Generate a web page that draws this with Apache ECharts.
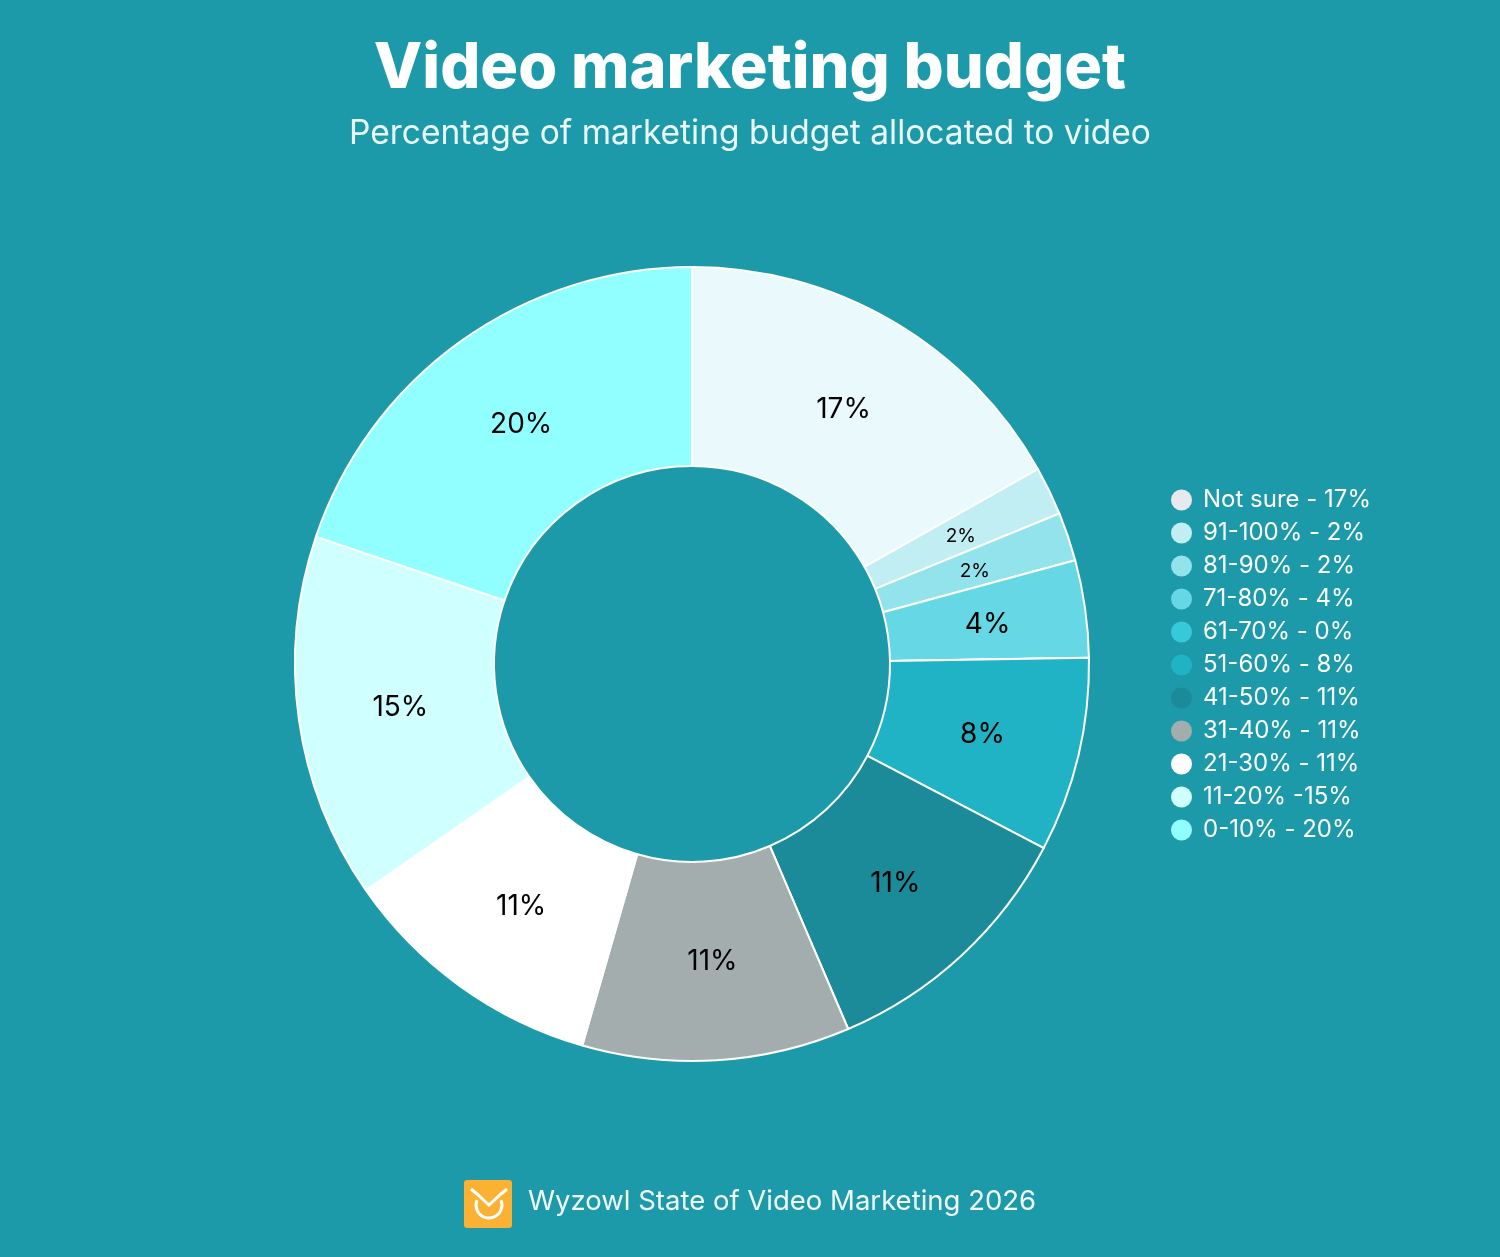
<!DOCTYPE html>
<html><head><meta charset="utf-8">
<script src="https://cdn.jsdelivr.net/npm/echarts@6/dist/echarts.min.js"></script>
<style>html,body{margin:0;padding:0;background:#1C9AA9;}#c{width:1500px;height:1257px;}</style>
</head><body><div id="c"></div>
<script>
const categories = ['Not sure','91-100%','81-90%','71-80%','61-70%','51-60%','41-50%','31-40%','21-30%','11-20%','0-10%'];
const legendNames = ['Not sure - 17%','91-100% - 2%','81-90% - 2%','71-80% - 4%','61-70% - 0%','51-60% - 8%','41-50% - 11%','31-40% - 11%','21-30% - 11%','11-20% -15%','0-10% - 20%'];
const values = [17,2,2,4,0,8,11,11,11,15,20];
const colors = ['#EAF9FC','#C1EEF3','#92E3EB','#66D7E4','#36C9DA','#20B3C6','#1B8A99','#A3ADAE','#FFFFFF','#CFFFFE','#91FFFF'];
const legendColors = ['#E6E9EE','#C1EEF3','#92E3EB','#66D7E4','#36C9DA','#20B3C6','#1B8A99','#A3ADAE','#FFFFFF','#CFFFFE','#91FFFF'];

const chart = echarts.init(document.getElementById('c'), null, {renderer:'canvas'});
const FONT = 'Inter, "Noto Sans", sans-serif';
chart.setOption({
  backgroundColor:'#1C9AA9',
  animation:false,
  title:[{
    text:'Video marketing budget', left:'center', top:33,
    textStyle:{color:'#FFFFFF', fontSize:63, fontWeight:800, fontFamily:FONT}
  },{
    text:'Percentage of marketing budget allocated to video', left:'center', top:112,
    textStyle:{color:'#EAF7F9', fontSize:33.5, fontWeight:'normal', fontFamily:FONT}
  }],
  legend:{
    orient:'vertical', left:1166, top:483, itemGap:9,
    icon:'circle', itemWidth:21, itemHeight:21,
    data: categories.map((c,i)=>({name:legendNames[i], itemStyle:{color:legendColors[i], borderWidth:0}})),
    textStyle:{color:'#FFFFFF', fontSize:24, fontFamily:FONT, padding:[0,0,0,6]},
    selectedMode:false
  },
  series:[{
    type:'pie', center:[692,664], radius:[198,397], startAngle:90, clockwise:true,
    avoidLabelOverlap:false, minAngle:0, stillShowZeroSum:true,
    itemStyle:{borderColor:'#FFFFFF', borderWidth:2},
    label:{show:false},
    labelLine:{show:false},
    emphasis:{disabled:true},
    data: values.map((v,i)=>({name:legendNames[i], value:v, itemStyle:{color:colors[i]}}))
  },{
    type:'pie', center:[694,666], radius:[190,397], startAngle:90, clockwise:true,
    avoidLabelOverlap:false, minAngle:0, silent:true, z:5,
    itemStyle:{color:'rgba(0,0,0,0)', borderWidth:0},
    label:{show:true, position:'inside', color:'#000000', fontFamily:FONT, fontSize:28,
      formatter:p=> p.value===0 ? '' : p.value+'%'},
    labelLine:{show:false},
    emphasis:{disabled:true},
    data: values.map((v,i)=>({
      name:'lbl'+i, value:v,
      label: v<=2 ? {fontSize:19} : {}
    }))
  }],
  graphic:[
    {type:'rect', shape:{x:464, y:1180, width:48, height:48, r:3}, style:{fill:'#FBB232'}},
    {type:'arc', shape:{cx:489, cy:1205, r:13, startAngle:Math.PI*1.12, endAngle:Math.PI*1.88, clockwise:false}, style:{fill:'none', stroke:'#FFFFFF', lineWidth:3}},
    {type:'polyline', shape:{points:[[471,1189],[477,1194],[489,1205],[501,1194],[507,1189]]}, style:{fill:'none', stroke:'#FFFFFF', lineWidth:3, lineJoin:'miter'}},
    {type:'text', left:528, top:1188, style:{text:'Wyzowl State of Video Marketing 2026', fill:'#F2FAFB', font:'27.5px '+FONT}}
  ]
});
</script></body></html>
